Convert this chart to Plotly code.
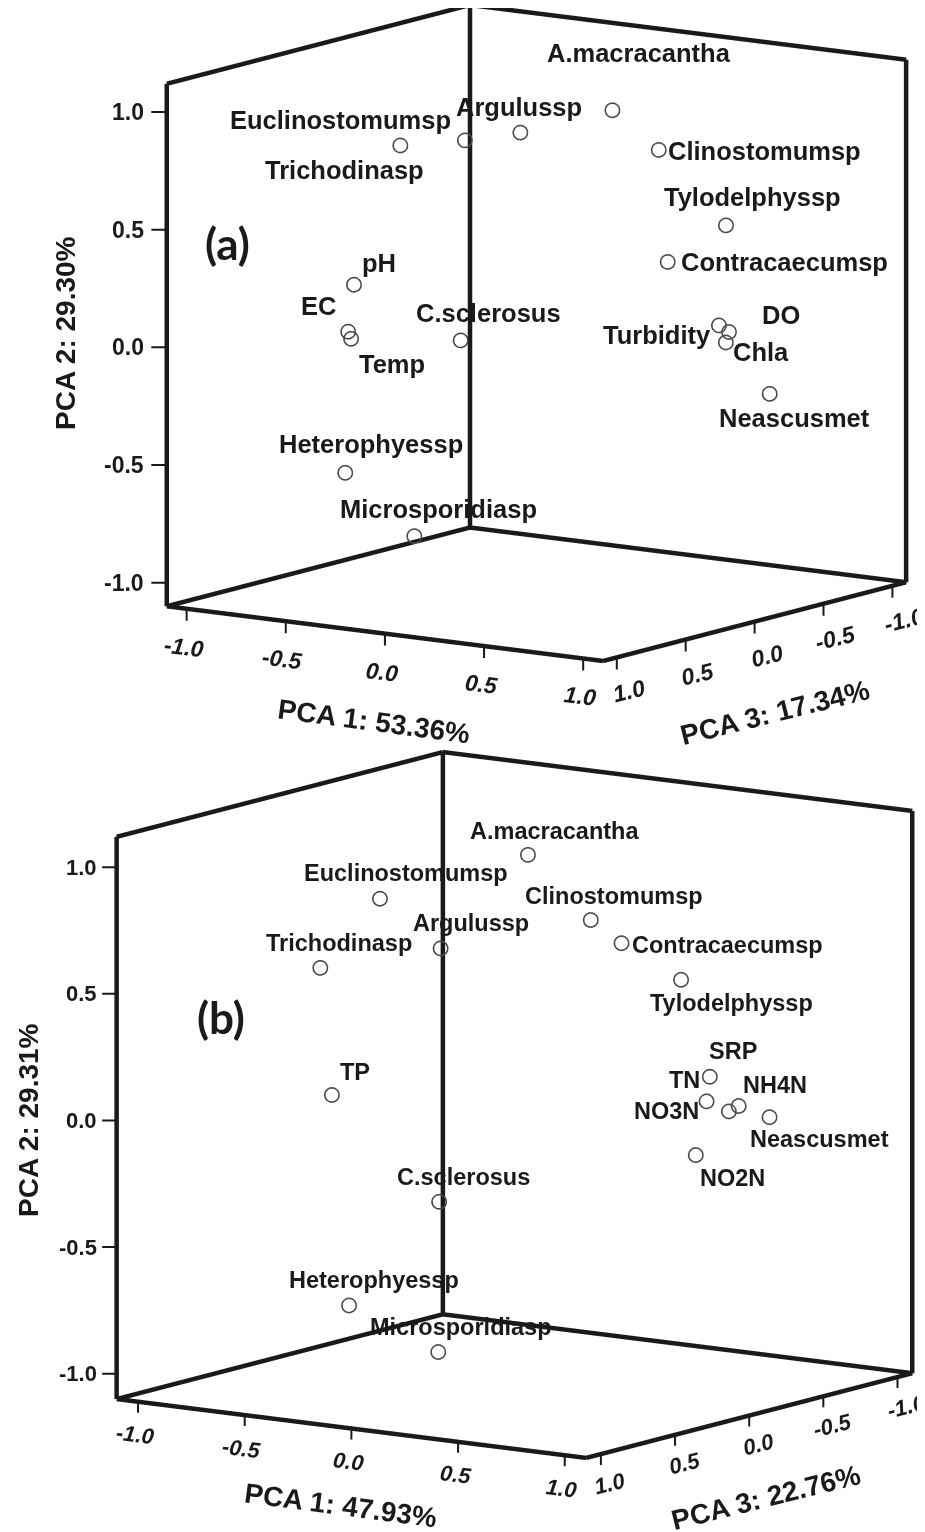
import math
import plotly.graph_objects as go

# ---------------- data: panel (a) ----------------
names_a = ["A.macracantha", "Argulussp", "Euclinostomumsp", "Trichodinasp", "Clinostomumsp",
           "Tylodelphyssp", "Contracaecumsp", "Turbidity", "DO", "Chla", "Neascusmet",
           "pH", "EC", "Temp", "C.sclerosus", "Heterophyessp", "Microsporidiasp"]
pc1_a = [0.45, 0.09, -0.12, -0.55, 0.51, 0.71, 0.59, 0.64, 0.76, 0.64, 1.00,
         -0.61, -0.57, -0.59, -0.35, -0.55, -0.41]
pc2_a = [1.02, 0.91, 0.87, 0.78, 0.82, 0.49, 0.36, 0.05, 0.05, -0.03, -0.18,
         0.22, 0.04, 0.00, -0.05, -0.55, -0.85]
pc3_a = [0.10, 0.25, 0.35, 0.20, -0.15, -0.35, -0.10, -0.40, -0.30, -0.45, -0.25,
         0.45, 0.55, 0.50, 0.05, 0.60, 0.30]

# ---------------- data: panel (b) ----------------
names_b = ["A.macracantha", "Euclinostomumsp", "Argulussp", "Trichodinasp", "Clinostomumsp",
           "Contracaecumsp", "Tylodelphyssp", "SRP", "TN", "NO3N", "NH4N", "Neascusmet",
           "NO2N", "TP", "C.sclerosus", "Heterophyessp", "Microsporidiasp"]
pc1_b = [0.20, -0.32, -0.14, -0.53, 0.39, 0.43, 0.57, 0.67, 0.62, 0.69, 0.84, 0.95,
         0.50, -0.58, -0.39, -0.43, -0.29]
pc2_b = [1.05, 0.86, 0.66, 0.58, 0.79, 0.68, 0.52, 0.14, 0.03, -0.01, 0.05, 0.01,
         -0.21, 0.05, -0.42, -0.75, -0.98]
pc3_b = [0.20, 0.45, 0.30, 0.55, 0.05, -0.10, -0.30, -0.35, -0.40, -0.45, -0.30, -0.35,
         -0.50, 0.40, -0.05, 0.50, 0.10]

var_a = ["PCA 1: 53.36%", "PCA 2: 29.30%", "PCA 3: 17.34%"]
var_b = ["PCA 1: 47.93%", "PCA 2: 29.31%", "PCA 3: 22.76%"]
tick_vals = [-1.0, -0.5, 0.0, 0.5, 1.0]
tick_text = ["-1.0", "-0.5", "0.0", "0.5", "1.0"]
rng1 = [-1.1, 1.1]   # PCA 1 frame
rng2 = [-1.1, 1.12]  # PCA 2 frame
rng3 = [-1.1, 1.1]   # PCA 3 frame

# label pixel offsets (style only)
off_a = [(27, -57), (-1, -25), (-124, -20), (-55, 25), (106, 1), (27, -28), (117, 0),
         (-62, 10), (52, -17), (36, 10), (25, 24), (25, -22), (-29, -25), (41, 25),
         (28, -27), (26, -29), (25, -27)]
off_b = [(27, -24), (27, -25), (31, -25), (19, -25), (24, -24), (106, 2), (51, 23),
         (24, -26), (-22, -21), (-62, 0), (37, -21), (50, 22), (37, 23), (24, -23),
         (25, -25), (25, -25), (23, -25)]

INK = "#1a1a1a"
AZ, EL = math.radians(34.8), math.radians(10.4)
FIG_W, FIG_H = 925, 1532
A_BOTTOM = 752  # page row where scene (a) ends
B_TOP = 728     # page row where scene (b) begins
PAD = 0.05      # axis range padding around the drawn frame (avoids clipping the frame)


def padded(r):
    return [r[0] - PAD, r[1] + PAD]


def pad_factor(r):
    return (r[1] - r[0] + 2 * PAD) / (r[1] - r[0])


def box_edges():
    x0, x1 = rng3
    y0, y1 = rng1
    z0, z1 = rng2
    segs = [
        ((x0, y0, z1), (x0, y1, z1)),  # top edge, back-right wall
        ((x0, y0, z1), (x1, y0, z1)),  # top edge, back-left wall
        ((x1, y0, z0), (x1, y0, z1)),  # left vertical
        ((x0, y0, z0), (x0, y0, z1)),  # back vertical
        ((x0, y1, z0), (x0, y1, z1)),  # right vertical
        ((x1, y0, z0), (x1, y1, z0)),  # floor front-left
        ((x1, y1, z0), (x0, y1, z0)),  # floor front-right
        ((x0, y0, z0), (x1, y0, z0)),  # floor back-left
        ((x0, y0, z0), (x0, y1, z0)),  # floor back-right
    ]
    xs, ys, zs = [], [], []
    for a, b in segs:
        xs += [a[0], b[0], None]
        ys += [a[1], b[1], None]
        zs += [a[2], b[2], None]
    return xs, ys, zs


def axis(rng):
    return dict(range=padded(rng), autorange=False, title=dict(text=""), showticklabels=False,
                ticks="", showgrid=False, zeroline=False, showbackground=False, showline=False,
                showspikes=False)


def camera(dx_px, dy_px, px_per_unit, r=3.0):
    d = (math.cos(EL) * math.cos(AZ), math.cos(EL) * math.sin(AZ), math.sin(EL))
    right = (-math.sin(AZ), math.cos(AZ), 0.0)
    up = (-math.sin(EL) * math.cos(AZ), -math.sin(EL) * math.sin(AZ), math.cos(EL))
    c = [-(dx_px / px_per_unit) * right[i] - (dy_px / px_per_unit) * up[i] for i in range(3)]
    return dict(projection=dict(type="orthographic"), up=dict(x=0, y=0, z=1),
                center=dict(x=c[0], y=c[1], z=c[2]),
                eye=dict(x=c[0] + r * d[0], y=c[1] + r * d[1], z=c[2] + r * d[2]))


def aspect(base):
    return dict(x=base * pad_factor(rng3), y=base * pad_factor(rng1), z=base * pad_factor(rng2))


fig = go.Figure()
for scene, p1, p2, p3 in [("scene", pc1_a, pc2_a, pc3_a), ("scene2", pc1_b, pc2_b, pc3_b)]:
    ex, ey, ez = box_edges()
    fig.add_trace(go.Scatter3d(x=ex, y=ey, z=ez, mode="lines", line=dict(color=INK, width=9),
                               connectgaps=False, hoverinfo="skip", showlegend=False, scene=scene))
    fig.add_trace(go.Scatter3d(x=p3, y=p1, z=p2, mode="markers",
                               marker=dict(symbol="circle-open", size=9, color="#4a4a4a"),
                               showlegend=False, scene=scene))


def point_labels(names, p1, p2, p3, offs, size):
    out = []
    for n, a, b, c, (dx, dy) in zip(names, p1, p2, p3, offs):
        out.append(dict(x=c, y=a, z=b, text=n, showarrow=False, xshift=dx, yshift=-dy,
                        xanchor="center", yanchor="middle",
                        font=dict(family="Arial", size=size, color=INK, weight="bold")))
    return out


def tick_mark(x, y, z, ax, ay):
    return dict(x=x, y=y, z=z, text=" ", showarrow=True, arrowhead=0, arrowwidth=2,
                arrowcolor=INK, ax=ax, ay=ay, standoff=0, startstandoff=0,
                font=dict(size=1), borderpad=0)


def tick_labels(zshift, zlen, p1shift, p3shift, size, blen):
    out = []
    for t, s in zip(tick_vals, tick_text):
        # PCA 2 (vertical) on the front-left edge
        out.append(tick_mark(rng3[1], rng1[0], t, -zlen, 0))
        out.append(dict(x=rng3[1], y=rng1[0], z=t, text=s, showarrow=False,
                        xanchor="right", yanchor="middle", xshift=zshift, yshift=0,
                        font=dict(family="Arial", size=size, color=INK, weight="bold")))
        # PCA 1 along the front-left floor edge
        out.append(tick_mark(rng3[1], t, rng2[0], 0, blen))
        out.append(dict(x=rng3[1], y=t, z=rng2[0], text=s, showarrow=False,
                        xanchor="center", yanchor="middle", xshift=p1shift[0], yshift=-p1shift[1],
                        textangle=7,
                        font=dict(family="Arial", size=size, color=INK, weight="bold",
                                  style="italic")))
        # PCA 3 along the front-right floor edge
        out.append(tick_mark(t, rng1[1], rng2[0], 0, blen))
        out.append(dict(x=t, y=rng1[1], z=rng2[0], text=s, showarrow=False,
                        xanchor="center", yanchor="middle", xshift=p3shift[0], yshift=-p3shift[1],
                        textangle=-14,
                        font=dict(family="Arial", size=size, color=INK, weight="bold",
                                  style="italic")))
    return out


PDX, PDY = -7, -8  # empirical correction for paper-anchored text


def paper_text(text, x, y, size, angle=0, family="Arial"):
    return dict(text=text, x=(x + PDX) / FIG_W, y=1 - (y + PDY) / FIG_H, xref="paper", yref="paper",
                showarrow=False, xanchor="center", yanchor="middle", textangle=angle,
                font=dict(family=family, size=size, color=INK, weight="bold"))


ha = A_BOTTOM
hb = FIG_H - B_TOP
fig.update_layout(
    width=FIG_W, height=FIG_H, margin=dict(l=0, r=0, t=0, b=0),
    paper_bgcolor="white", showlegend=False,
    scene=dict(domain=dict(x=[0, 1], y=[1 - ha / FIG_H, 1]), aspectmode="manual",
               aspectratio=aspect(1.387 * 766 / ha), bgcolor="rgba(0,0,0,0)",
               xaxis=axis(rng3), yaxis=axis(rng1), zaxis=axis(rng2),
               camera=camera(66, 51, ha / 2),
               annotations=point_labels(names_a, pc1_a, pc2_a, pc3_a, off_a, 25.5)
               + tick_labels(-21, 16, (-3, 38), (12, 34), 23, 13)),
    scene2=dict(domain=dict(x=[0, 1], y=[0, hb / FIG_H]), aspectmode="manual",
                aspectratio=aspect(1.4925 * 766 / hb), bgcolor="rgba(0,0,0,0)",
                xaxis=axis(rng3), yaxis=axis(rng1), zaxis=axis(rng2),
                camera=camera(44, (B_TOP + hb / 2) - 1097, hb / 2),
                annotations=point_labels(names_b, pc1_b, pc2_b, pc3_b, off_b, 23.5)
                + tick_labels(-18, 15, (-3, 33), (9, 29), 22, 12)),
    annotations=[
        paper_text("(a)", 226, 243, 44, family="Lato"),
        paper_text("(b)", 220, 1017, 44, family="Lato"),
        paper_text(var_a[1], 65, 333, 28, -90),
        paper_text(var_a[0], 373, 722, 28, 7.5),
        paper_text(var_a[2], 774, 712, 28, -14),
        paper_text(var_b[1], 27, 1120, 28, -90),
        paper_text(var_b[0], 340, 1505, 28, 7.5),
        paper_text(var_b[2], 765, 1497, 28, -14),
    ],
)
fig.write_html("out.html")
